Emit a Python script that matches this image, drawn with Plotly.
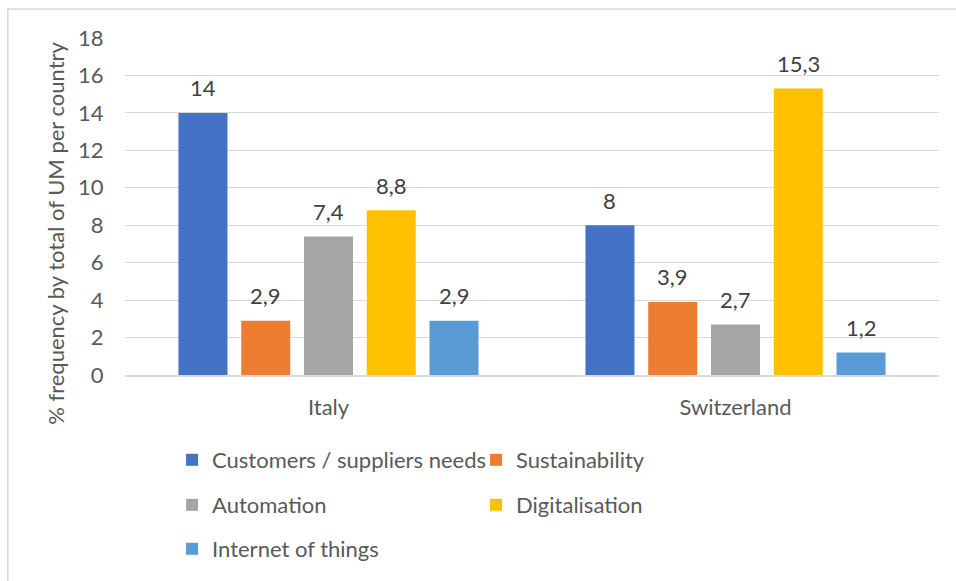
import plotly.graph_objects as go

countries = ["Italy", "Switzerland"]
series_names = ["Customers / suppliers needs", "Sustainability", "Automation",
                "Digitalisation", "Internet of things"]
customers = [14, 8]
sustainability = [2.9, 3.9]
automation = [7.4, 2.7]
digitalisation = [8.8, 15.3]
iot = [2.9, 1.2]
series_values = [customers, sustainability, automation, digitalisation, iot]
colors = ["#4472C4", "#ED7D31", "#A5A5A5", "#FFC000", "#5B9BD5"]
legend_ids = ["legend", "legend", "legend2", "legend2", "legend3"]
y_ticks = [0, 2, 4, 6, 8, 10, 12, 14, 16, 18]

FONT = "Lato"
TXT = "#595959"
bargap = 0.229
n = len(series_names)
xpos = list(range(len(countries)))

fig = go.Figure()
annotations = []
for i, (name, vals, col, lg) in enumerate(zip(series_names, series_values, colors, legend_ids)):
    fig.add_trace(go.Bar(x=xpos, y=vals, name=name, marker_color=col,
                         marker_line_width=0, legend=lg))
    slot = (1 - bargap) / n
    off = (i - (n - 1) / 2) * slot
    for xi, v in zip(xpos, vals):
        annotations.append(dict(x=xi + off, y=v, xref="x", yref="y",
                                text=f"{v:g}".replace(".", ","), showarrow=False,
                                yanchor="middle", yshift=25,
                                font=dict(family=FONT, size=22, color="#404040")))

annotations.append(dict(x=-0.0849, y=0.4216, xref="paper", yref="paper",
                        text="% frequency by total of UM per country", textangle=-90,
                        showarrow=False, xanchor="center", yanchor="middle",
                        font=dict(family=FONT, size=22, color=TXT)))

def px2x(p):
    return (p - 125) / 813

def py2y(p):
    return (376 - p) / 338

leg_common = dict(orientation="h", xanchor="left", yanchor="middle",
                  font=dict(family=FONT, size=22, color=TXT),
                  entrywidth=259, entrywidthmode="pixels",
                  bgcolor="rgba(0,0,0,0)", x=px2x(172))

fig.update_layout(
    width=956, height=581,
    margin=dict(l=125, r=17, t=38, b=205),
    paper_bgcolor="white", plot_bgcolor="white",
    barmode="group", bargap=bargap, bargroupgap=0.219,
    font=dict(family=FONT, size=22, color=TXT),
    xaxis=dict(tickvals=xpos, ticktext=countries, range=[-0.5, 1.5],
               showgrid=False, zeroline=False, showline=True,
               linecolor="#d9d9d9", linewidth=1.5,
               ticks="outside", ticklen=12, tickcolor="rgba(0,0,0,0)",
               tickfont=dict(family=FONT, size=22, color=TXT)),
    yaxis=dict(range=[0, 18], tickvals=y_ticks, showgrid=True,
               gridcolor="#d9d9d9", gridwidth=1, zeroline=False, showline=False,
               ticks="outside", ticklen=16, tickcolor="rgba(0,0,0,0)",
               tickfont=dict(family=FONT, size=22, color=TXT)),
    legend=dict(**leg_common, y=py2y(460)),
    legend2=dict(**leg_common, y=py2y(505)),
    legend3=dict(**leg_common, y=py2y(549)),
    annotations=annotations,
    shapes=[dict(type="rect", xref="paper", yref="paper",
                 x0=px2x(8), x1=px2x(990), y0=py2y(620), y1=py2y(9),
                 line=dict(color="#d9d9d9", width=1.5), layer="below")],
)

fig.write_html("out.html", config={"displayModeBar": False},
               post_script="document.body.style.margin='0';")
